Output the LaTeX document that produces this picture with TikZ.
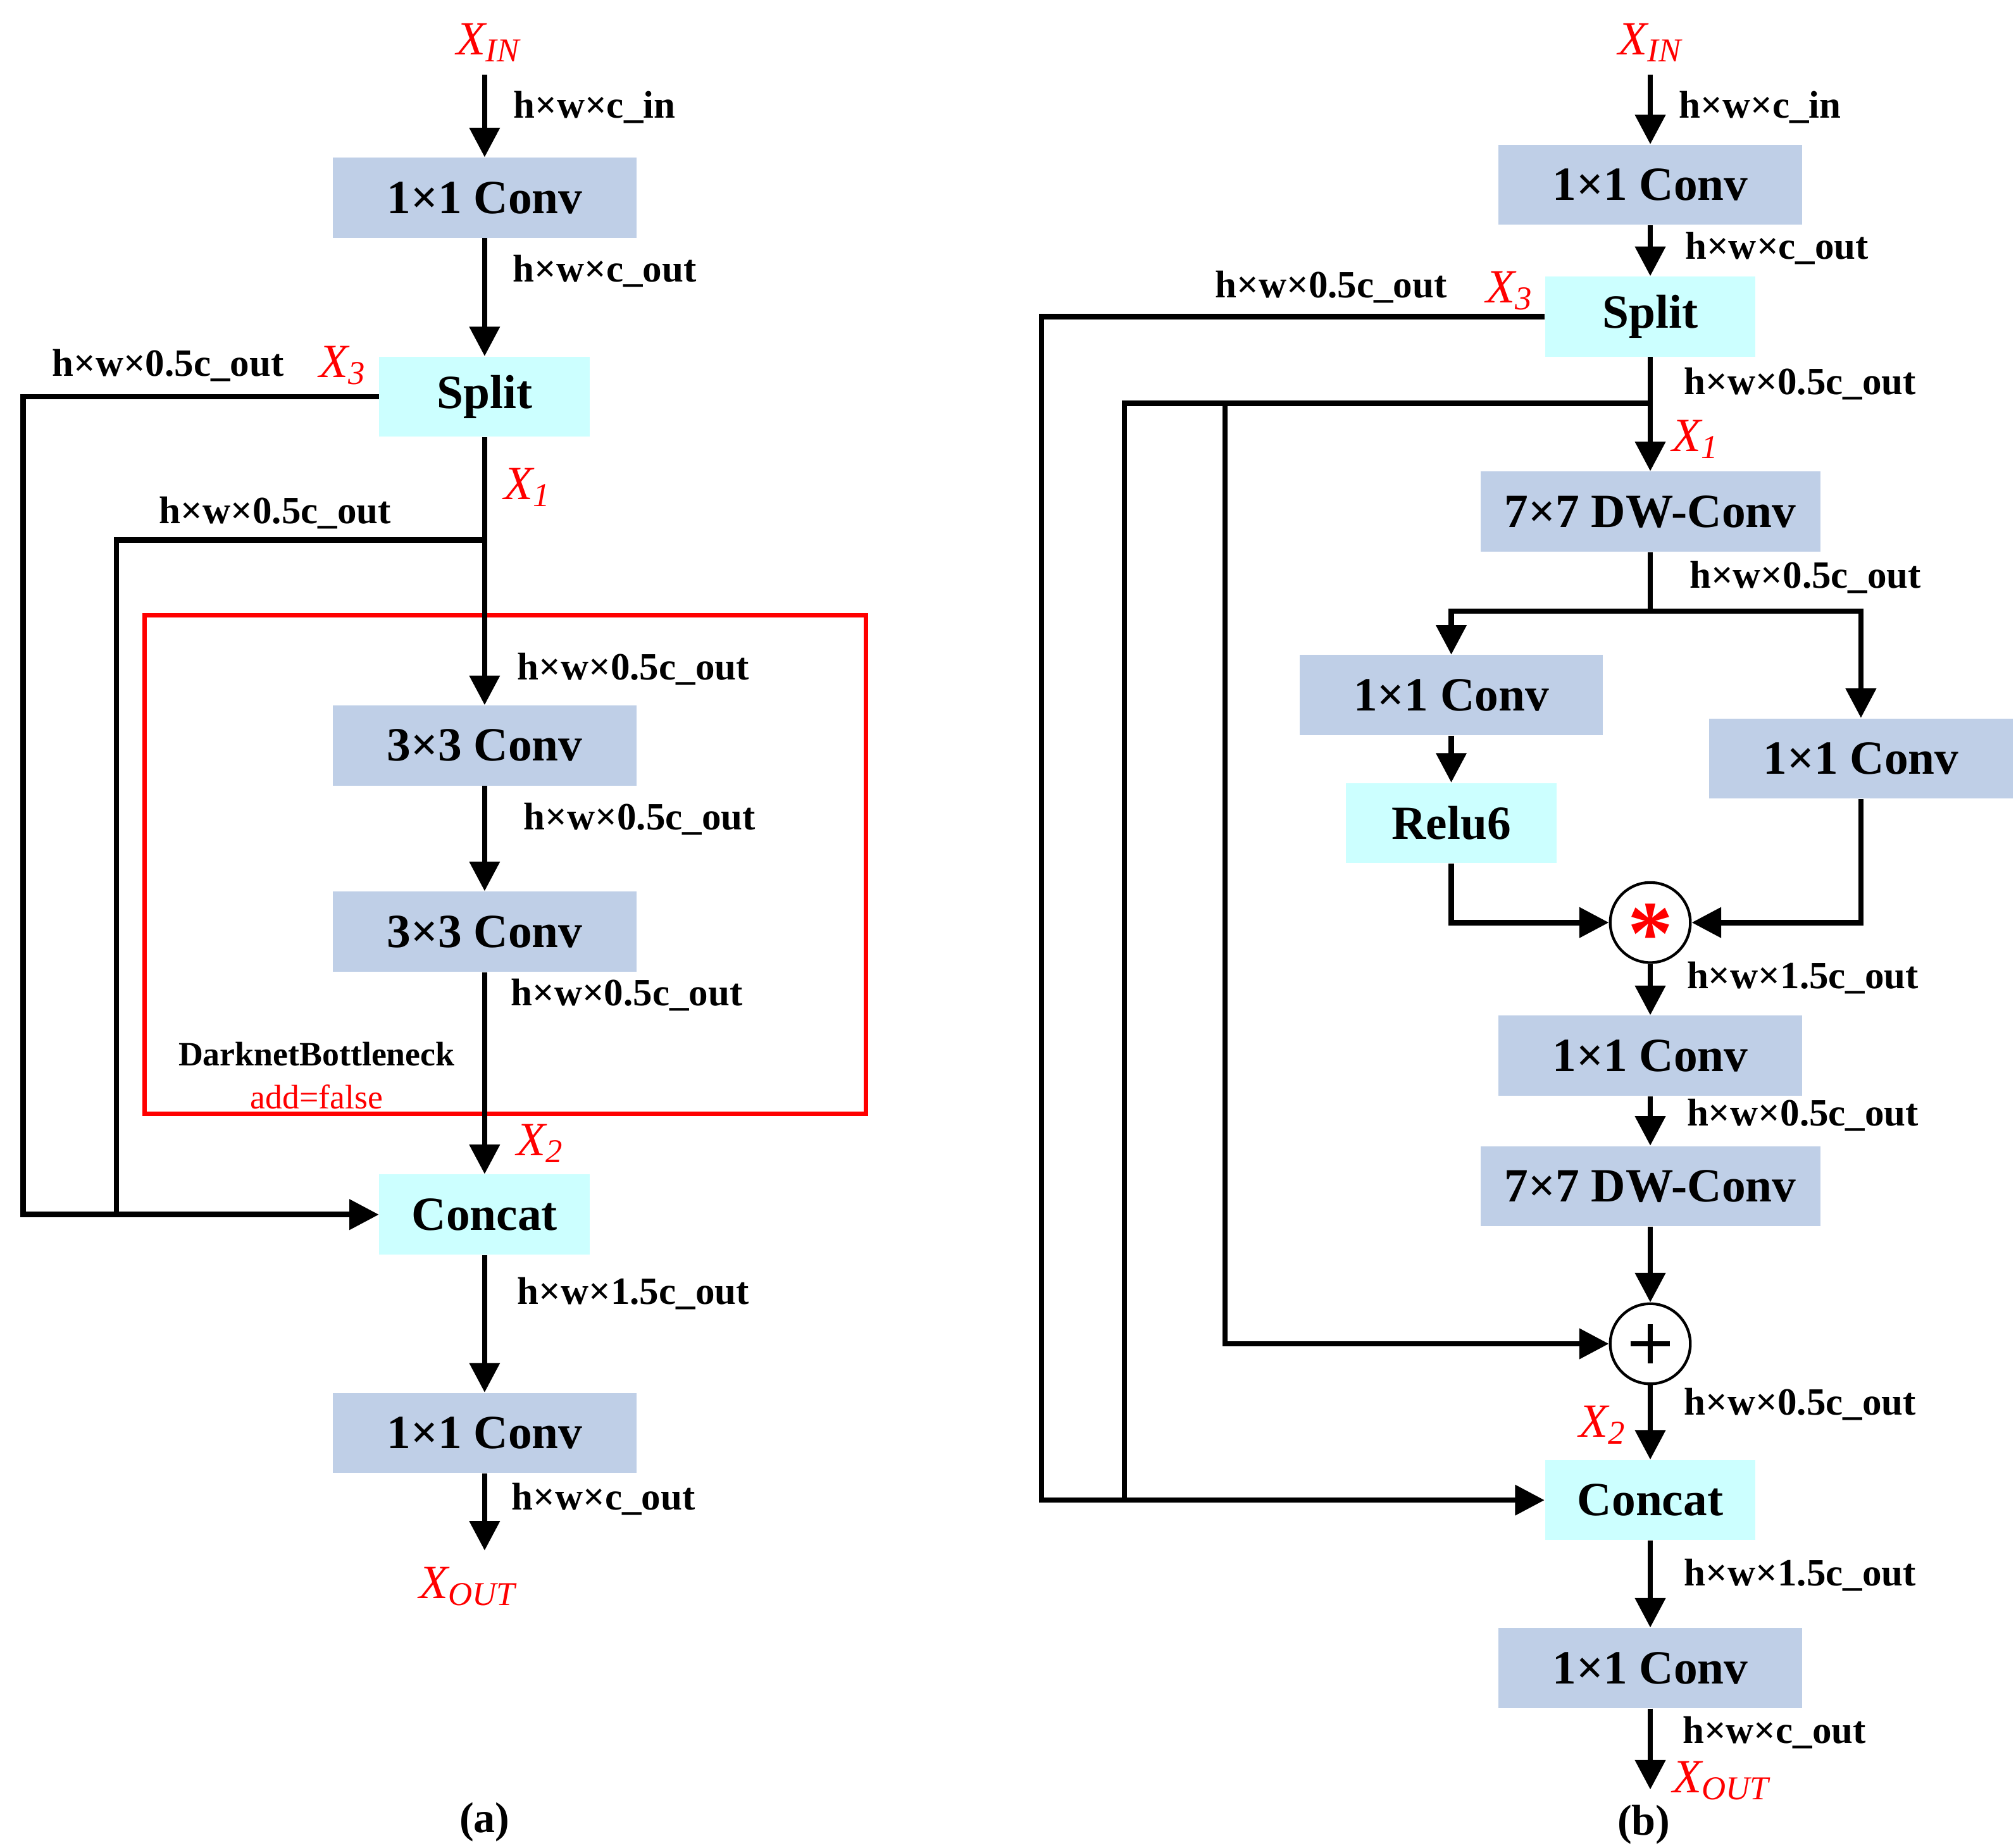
\documentclass[tikz,border=0pt]{standalone}
\usepackage{fontspec}
\setmainfont{Liberation Serif}
\usetikzlibrary{arrows.meta,calc}
\definecolor{bx}{HTML}{BFCFE7}
\definecolor{cy}{HTML}{CCFFFF}
\definecolor{rd}{HTML}{FF0000}
\begin{document}
\begin{tikzpicture}[x=0.02cm,y=-0.02cm,
  box/.style={fill=bx,minimum width=4.7cm,minimum height=1.24cm,inner sep=0pt,font=\fontsize{21}{24}\selectfont\bfseries},
  wbox/.style={box,minimum width=5.26cm},
  cbox/.style={box,fill=cy,minimum width=3.26cm},
  lab/.style={font=\fontsize{17}{20}\selectfont\bfseries,inner sep=0pt},
  xl/.style={text=rd,font=\fontsize{21}{24}\selectfont\itshape,inner sep=0pt},
  ln/.style={line width=2.4pt},
  ar/.style={ln,-{Triangle[length=13pt,width=13pt]}},
  circ/.style={circle,draw,line width=1.2pt,minimum size=1.24cm,inner sep=0pt}]
\useasboundingbox (0,0) rectangle (1560,1430);
% ---------- (a)
\node[xl] (ainl) at (378,33) {X\textsubscript{IN}};
\coordinate (ain) at (375,58);
\node[box] (a1) at (375,153) {1×1 Conv};
\node[cbox] (asp) at (375,307) {Split};
\node[box] (a2) at (375,577) {3×3 Conv};
\node[box] (a3) at (375,721) {3×3 Conv};
\node[cbox] (acat) at (375,940) {Concat};
\node[box] (a4) at (375,1109) {1×1 Conv};
\coordinate (aout) at (375,1200);
\node[xl] at (362,1228) {X\textsubscript{OUT}};
\draw[rd,line width=2pt] (112,476) rectangle (670,862);
\draw[ar] (ain) -- (a1.north);
\draw[ar] (a1.south) -- (asp.north);
\draw[ar] (asp.south) -- (a2.north);
\draw[ar] (a2.south) -- (a3.north);
\draw[ar] (a3.south) -- (acat.north);
\draw[ar] (acat.south) -- (a4.north);
\draw[ar] (a4.south) -- (aout);
\draw[ar] (asp.west) -- (18,307) -- (18,940) -- (acat.west);
\draw[ln] (375,418) -- (90,418) -- (90,940);
\node[lab] at (460,83) {h×w×c\_in};
\node[lab] at (468,210) {h×w×c\_out};
\node[lab] at (130,283) {h×w×0.5c\_out};
\node[xl] at (265,283) {X\textsubscript{3}};
\node[xl] at (408,377) {X\textsubscript{1}};
\node[lab] at (213,397) {h×w×0.5c\_out};
\node[lab] at (490,518) {h×w×0.5c\_out};
\node[lab] at (495,634) {h×w×0.5c\_out};
\node[lab] at (485,770) {h×w×0.5c\_out};
\node[lab,font=\fontsize{15}{18}\selectfont\bfseries] at (245,816) {DarknetBottleneck};
\node[text=rd,font=\fontsize{15}{18}\selectfont,inner sep=0pt] at (245,849) {add=false};
\node[xl] at (418,885) {X\textsubscript{2}};
\node[lab] at (490,1001) {h×w×1.5c\_out};
\node[lab] at (467,1160) {h×w×c\_out};
\node[font=\fontsize{19}{22}\selectfont\bfseries] at (375,1410) {(a)};
% ---------- (b)
\node[xl] at (1277,33) {X\textsubscript{IN}};
\coordinate (bin) at (1277,58);
\node[box] (b1) at (1277,143) {1×1 Conv};
\node[cbox] (bsp) at (1277,245) {Split};
\node[wbox] (bd1) at (1277,396) {7×7 DW-Conv};
\node[box] (bl) at (1123,538) {1×1 Conv};
\node[cbox] (brelu) at (1123,637) {Relu6};
\node[box] (br) at (1440,587) {1×1 Conv};
\node[circ] (bm) at (1277,714) {};
\node[text=rd,font=\fontsize{40}{40}\selectfont\bfseries,inner sep=0pt] at (1277,723) {*};
\node[box] (b2) at (1277,817) {1×1 Conv};
\node[wbox] (bd2) at (1277,918) {7×7 DW-Conv};
\node[circ] (bp) at (1277,1040) {};
\draw[line width=2pt] ($(bp.center)+(-15,0)$) -- ++(30,0) ($(bp.center)+(0,-15)$) -- ++(0,30);
\node[cbox] (bcat) at (1277,1161) {Concat};
\node[box] (b3) at (1277,1291) {1×1 Conv};
\coordinate (bout) at (1277,1385);
\node[xl] at (1332,1378) {X\textsubscript{OUT}};
\draw[ar] (bin) -- (b1.north);
\draw[ar] (b1.south) -- (bsp.north);
\draw[ar] (bsp.south) -- (bd1.north);
\draw[ln] (bd1.south) -- (1277,473);
\draw[ar] (1277,473) -- (1123,473) -- (bl.north);
\draw[ar] (1277,473) -- (1440,473) -- (br.north);
\draw[ar] (bl.south) -- (brelu.north);
\draw[ar] (brelu.south) -- (1123,714) -- (bm.west);
\draw[ar] (br.south) -- (1440,714) -- (bm.east);
\draw[ar] (bm.south) -- (b2.north);
\draw[ar] (b2.south) -- (bd2.north);
\draw[ar] (bd2.south) -- (bp.north);
\draw[ar] (bp.south) -- (bcat.north);
\draw[ar] (bcat.south) -- (b3.north);
\draw[ar] (b3.south) -- (bout);
\draw[ar] (bsp.west) -- (806,245) -- (806,1161) -- (bcat.west);
\draw[ln] (1277,312) -- (870,312) -- (870,1161);
\draw[ar] (948,312) -- (948,1040) -- (bp.west);
\node[lab] at (1362,83) {h×w×c\_in};
\node[lab] at (1375,192) {h×w×c\_out};
\node[lab] at (1030,222) {h×w×0.5c\_out};
\node[xl] at (1168,225) {X\textsubscript{3}};
\node[lab] at (1393,297) {h×w×0.5c\_out};
\node[xl] at (1312,340) {X\textsubscript{1}};
\node[lab] at (1397,447) {h×w×0.5c\_out};
\node[lab] at (1395,757) {h×w×1.5c\_out};
\node[lab] at (1395,863) {h×w×0.5c\_out};
\node[lab] at (1393,1087) {h×w×0.5c\_out};
\node[xl] at (1240,1103) {X\textsubscript{2}};
\node[lab] at (1393,1219) {h×w×1.5c\_out};
\node[lab] at (1373,1341) {h×w×c\_out};
\node[font=\fontsize{19}{22}\selectfont\bfseries] at (1272,1412) {(b)};
\end{tikzpicture}
\end{document}
